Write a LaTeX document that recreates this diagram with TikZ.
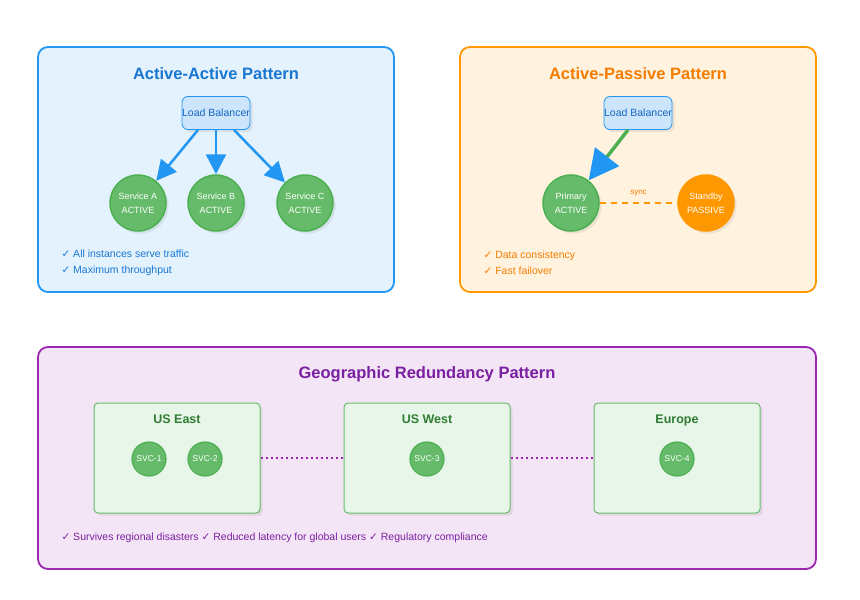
\documentclass[tikz,border=0pt]{standalone}
\usepackage{fontspec}
\setmainfont{Liberation Sans}
\newfontfamily\dejavu{DejaVu Sans}
\usetikzlibrary{arrows.meta,shadows}
\newcommand{\ck}{{\dejavu ✓}}
\definecolor{bbox}{HTML}{2196F3}\definecolor{bfill}{HTML}{E3F2FD}\definecolor{btxt}{HTML}{1976D2}
\definecolor{obox}{HTML}{FF9800}\definecolor{ofill}{HTML}{FFF3E0}\definecolor{otxt}{HTML}{F57C00}
\definecolor{pbox}{HTML}{9C27B0}\definecolor{pfill}{HTML}{F3E5F5}\definecolor{ptxt}{HTML}{7B1FA2}
\definecolor{gfill}{HTML}{66BB6A}\definecolor{gbord}{HTML}{4CAF50}\definecolor{rfill}{HTML}{E8F5E9}\definecolor{gtxt}{HTML}{2E7D32}
\definecolor{lbfill}{HTML}{CCE5FB}\definecolor{lbtxt}{HTML}{1565C0}
\begin{document}
\begin{tikzpicture}[x=1pt,y=-1pt,
 panel/.style={rounded corners=10pt,line width=1.8pt},
 ptitle/.style={font=\fontsize{16.5}{18}\selectfont\bfseries},
 lb/.style={draw=bbox,fill=lbfill,rounded corners=6pt,minimum width=68pt,minimum height=33pt,inner sep=0pt,font=\fontsize{10.5}{12}\selectfont,text=lbtxt,line width=0.8pt,drop shadow={opacity=0.15}},
 svc/.style={circle,draw=gbord,fill=gfill,line width=1.5pt,minimum size=56pt,inner sep=0pt,text=white,align=center,font=\fontsize{9}{14}\selectfont,drop shadow={opacity=0.15}},
 sm/.style={circle,draw=gbord,fill=gfill,line width=1.2pt,minimum size=34pt,inner sep=0pt,text=white,font=\fontsize{8.5}{10}\selectfont},
 region/.style={draw=gfill,fill=rfill,line width=1pt,rounded corners=4pt,drop shadow={opacity=0.15}},
 rtitle/.style={font=\fontsize{12.5}{14}\selectfont\bfseries,text=gtxt,anchor=base},
 note/.style={anchor=west,font=\fontsize{10.5}{16}\selectfont,align=left},
 arr/.style={draw=bbox,line width=2.5pt,-{Triangle[length=20pt,width=20pt]}}]
\useasboundingbox[fill=white] (0,0) rectangle (860,600);
% panel 1
\draw[panel,draw=bbox,fill=bfill] (38,47) rectangle (394,292);
\node[ptitle,text=btxt] (t1) at (216,74) {Active-Active Pattern};
\node[lb] (lb1) at (216,113) {Load Balancer};
\node[svc] (sa) at (138,203) {Service A\\ACTIVE};
\node[svc] (sb) at (216,203) {Service B\\ACTIVE};
\node[svc] (sc) at (305,203) {Service C\\ACTIVE};
\coordinate (l1a) at ([xshift=-18pt]lb1.south);
\coordinate (l1c) at ([xshift=18pt]lb1.south);
\draw[arr] (l1a) -- (sa);
\draw[arr] (lb1.south) -- (sb);
\draw[arr] (l1c) -- (sc);
\node[note,text=btxt] (n1) at (58,263) {\ck{} All instances serve traffic\\\ck{} Maximum throughput};
% panel 2
\draw[panel,draw=obox,fill=ofill] (460,47) rectangle (816,292);
\node[ptitle,text=otxt] (t2) at (638,74) {Active-Passive Pattern};
\node[lb] (lb2) at (638,113) {Load Balancer};
\node[svc] (pr) at (571,203) {Primary\\ACTIVE};
\node[svc,draw=obox,fill=obox] (sd) at (706,203) {Standby\\PASSIVE};
\coordinate (l2a) at ([xshift=-10pt]lb2.south);
\draw[draw=gbord,line width=3.5pt,-{Triangle[length=30pt,width=30pt,color=bbox]}] (l2a) -- (pr);
\draw[draw=obox,line width=2pt,dash pattern=on 6pt off 5pt] (pr) -- node[above=3pt,font=\fontsize{8}{9}\selectfont,text=otxt] (sy) {sync} (sd);
\node[note,text=otxt] (n2) at (480,263) {\ck{} Data consistency\\\ck{} Fast failover};
% panel 3
\draw[panel,draw=pbox,fill=pfill] (38,347) rectangle (816,569);
\node[ptitle,text=ptxt] (t3) at (427,374) {Geographic Redundancy Pattern};
\node[region,minimum width=166pt,minimum height=110pt] (ue) at (177,458) {};
\node[region,minimum width=166pt,minimum height=110pt] (uw) at (427,458) {};
\node[region,minimum width=166pt,minimum height=110pt] (eu) at (677,458) {};
\node[rtitle] at (177,423) {US East};
\node[rtitle] at (427,423) {US West};
\node[rtitle] at (677,423) {Europe};
\node[sm] (s1) at (149,459) {SVC-1};
\node[sm] (s2) at (205,459) {SVC-2};
\node[sm] (s3) at (427,459) {SVC-3};
\node[sm] (s4) at (677,459) {SVC-4};
\draw[pbox,line width=2pt,dash pattern=on 2pt off 3pt] (ue.east) -- (uw.west);
\draw[pbox,line width=2pt,dash pattern=on 2pt off 3pt] (uw.east) -- (eu.west);
\node[note,text=ptxt] (n3) at (58,538) {\ck{} Survives regional disasters \ck{} Reduced latency for global users \ck{} Regulatory compliance};
\end{tikzpicture}
\end{document}
